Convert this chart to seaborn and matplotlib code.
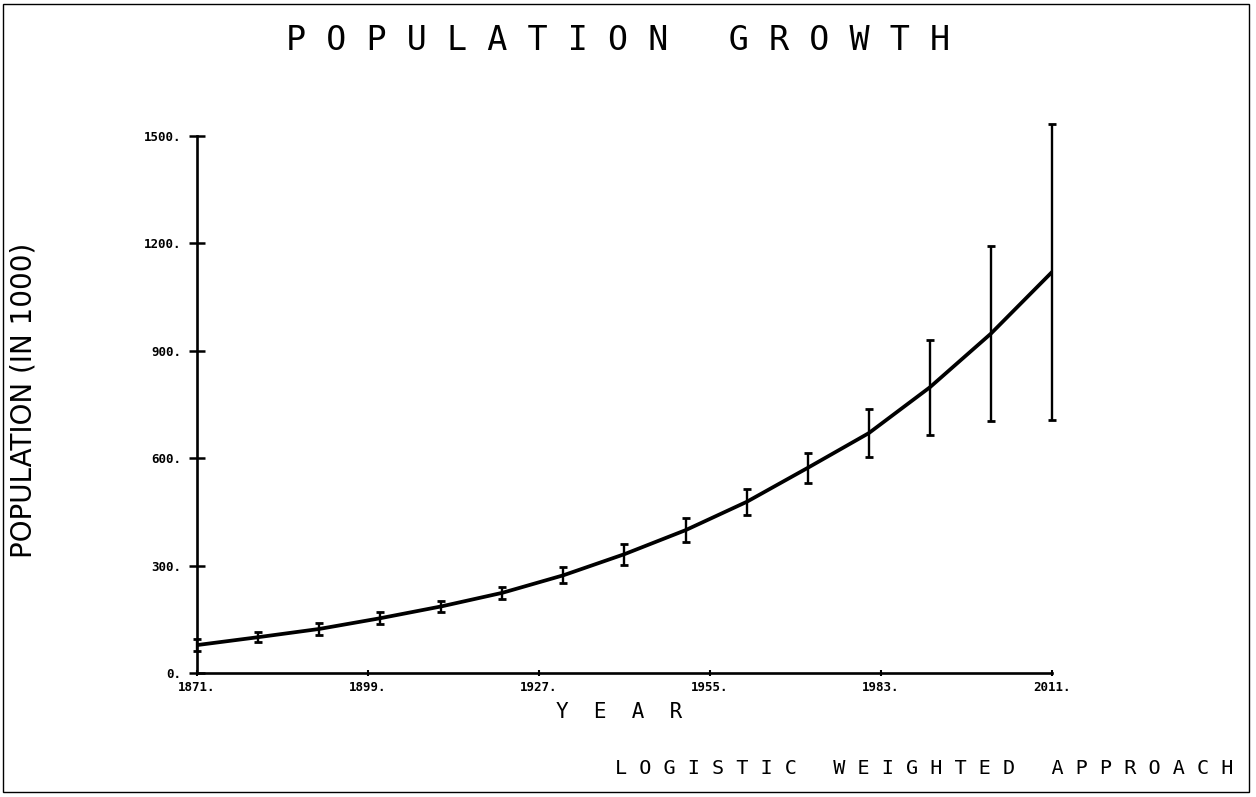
import matplotlib
matplotlib.use("Agg")
import matplotlib.pyplot as plt
import seaborn as sns
import pandas as pd
from matplotlib.patches import Rectangle

# Census years, estimated population (thousands) and the spread of each estimate
years = [1871, 1881, 1891, 1901, 1911, 1921, 1931, 1941, 1951, 1961, 1971, 1981, 1991, 2001, 2011]
population = [78, 100, 123, 153, 186, 224, 273, 332, 399, 478, 573, 670, 798, 948, 1120]
spread = [17, 14, 16, 16, 15, 17, 22, 29, 34, 36, 42, 67, 133, 245, 413]

x_ticks = [1871, 1899, 1927, 1955, 1983, 2011]
y_ticks = [0, 300, 600, 900, 1200, 1500]

title = "POPULATION GROWTH"
x_label = "YEAR"
y_label = "POPULATION (IN 1000)"
method = "LOGISTIC WEIGHTED APPROACH"

sns.set_style("white")
plt.rcParams["font.family"] = ["DejaVu Sans Mono", "DejaVu Sans"]

df = pd.DataFrame({"year": years, "population": population, "spread": spread})


def spaced(text, gap=" ", word_gap="   "):
    return word_gap.join(gap.join(word) for word in text.split(" "))


fig = plt.figure(figsize=(12.56, 7.97), dpi=100)
ax = fig.add_axes([197 / 1256, 1 - 673 / 797, (1052 - 197) / 1256, (673 - 136) / 797])

sns.lineplot(data=df, x="year", y="population", ax=ax, color="black",
             linewidth=2.7, estimator=None, sort=True)
ax.errorbar(df["year"], df["population"], yerr=df["spread"], fmt="none",
            ecolor="black", elinewidth=1.7, capsize=3, capthick=2.0, clip_on=False)

ax.set_xlim(1871, 2011)
ax.set_ylim(0, 1500)
ax.set_xticks(x_ticks)
ax.set_xticklabels([f"{t}." for t in x_ticks])
ax.set_yticks(y_ticks)
ax.set_yticklabels([f"{t}." for t in y_ticks])
ax.set_xlabel("")
ax.set_ylabel("")

for side in ("top", "right"):
    ax.spines[side].set_visible(False)
for side in ("left", "bottom"):
    ax.spines[side].set_linewidth(1.9)
    ax.spines[side].set_color("black")

ax.tick_params(axis="y", left=True, direction="inout", length=11, width=1.8, pad=6,
               labelsize=9, colors="black")
ax.tick_params(axis="x", bottom=True, direction="inout", length=5, width=1.5, pad=3,
               labelsize=9, colors="black")
for lbl in ax.get_xticklabels() + ax.get_yticklabels():
    lbl.set_fontweight("bold")

fig.text(618 / 1256, 1 - 40 / 797, spaced(title), ha="center", va="center",
         fontsize=24, color="black")
fig.text(619 / 1256, 1 - 712 / 797, spaced(x_label, gap="  "), ha="center", va="center",
         fontsize=15, color="black")
fig.text(924 / 1256, 1 - 768 / 797, spaced(method), ha="center", va="center",
         fontsize=14.5, color="black")
fig.text(24 / 1256, 1 - 400 / 797, y_label, rotation=90, ha="center", va="center",
         fontsize=20, color="black", family=["DejaVu Sans"])

fig.patches.append(Rectangle((3 / 1256, 5 / 797), 1246 / 1256, 788 / 797,
                             transform=fig.transFigure, fill=False,
                             edgecolor="black", linewidth=1.0))

fig.savefig("out.png", dpi=100)
